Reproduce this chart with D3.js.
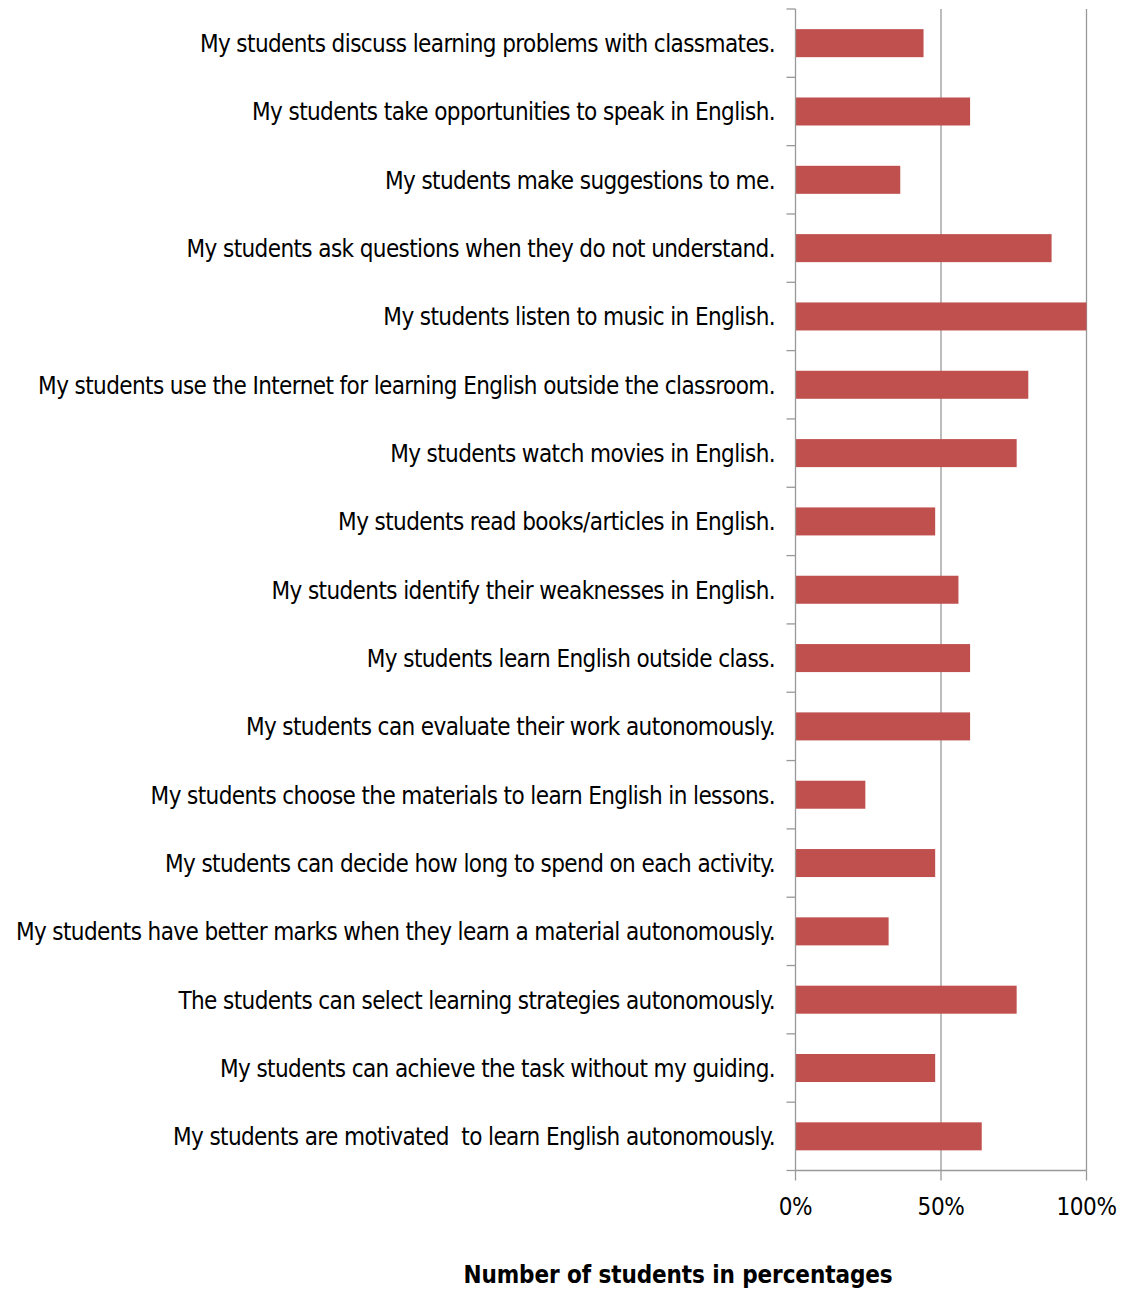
<!DOCTYPE html>
<html>
<head>
<meta charset="utf-8">
<script src="https://cdn.jsdelivr.net/npm/d3@7"></script>
<style>
  html, body { margin: 0; padding: 0; background: #fff; }
  svg { display: block; }
  text { font-family: "DejaVu Sans Condensed", "DejaVu Sans", sans-serif; fill: #000; }
  .cat { white-space: pre; }
</style>
</head>
<body>
<svg id="chart" width="1127" height="1290"></svg>
<script>
// Statements, listed top to bottom
const statements = [
  "My students discuss learning problems with classmates.",
  "My students take opportunities to speak in English.",
  "My students make suggestions to me.",
  "My students ask questions when they do not understand.",
  "My students listen to music in English.",
  "My students use the Internet for learning English outside the classroom.",
  "My students watch movies in English.",
  "My students read books/articles in English.",
  "My students identify their weaknesses in English.",
  "My students learn English outside class.",
  "My students can evaluate their work autonomously.",
  "My students choose the materials to learn English in lessons.",
  "My students can decide how long to spend on each activity.",
  "My students have better marks when they learn a material autonomously.",
  "The students can select learning strategies autonomously.",
  "My students can achieve the task without my guiding.",
  "My students are motivated  to learn English autonomously."
];

// Share of students (%) agreeing with each statement
const percentages = [44, 60, 36, 88, 100, 80, 76, 48, 56, 60, 60, 24, 48, 32, 76, 48, 64];

const tickValues = [0, 50, 100];
const axisTitle = "Number of students in percentages";

const svg = d3.select("#chart");
const plot = { left: 795.5, right: 1086.5, top: 9, bottom: 1170.5 };

const x = d3.scaleLinear().domain([0, 100]).range([plot.left, plot.right]);
const y = d3.scaleBand().domain(statements).range([plot.top, plot.bottom]).paddingInner(0.59).paddingOuter(0.295);
const yEdges = d3.scaleLinear().domain([0, statements.length]).range([plot.top, plot.bottom]);

const axisColor = "#999999";

// vertical gridlines (the 0% line is the category axis)
svg.append("g").selectAll("line")
  .data(tickValues.filter(v => v > 0))
  .join("line")
  .attr("x1", d => x(d)).attr("x2", d => x(d))
  .attr("y1", plot.top).attr("y2", plot.bottom)
  .attr("stroke", axisColor).attr("stroke-width", 1.3);

// bars
svg.append("g").selectAll("rect")
  .data(statements)
  .join("rect")
  .attr("x", x(0))
  .attr("y", d => y(d))
  .attr("width", (d, i) => x(percentages[i]) - x(0))
  .attr("height", y.bandwidth())
  .attr("fill", "#C0504D");

// category axis with tick marks on band boundaries
const catAxis = svg.append("g");
catAxis.append("line")
  .attr("x1", plot.left).attr("x2", plot.left)
  .attr("y1", plot.top).attr("y2", plot.bottom)
  .attr("stroke", axisColor).attr("stroke-width", 1.3);
catAxis.selectAll("line.tick")
  .data(d3.range(statements.length + 1))
  .join("line")
  .attr("class", "tick")
  .attr("x1", plot.left - 9).attr("x2", plot.left)
  .attr("y1", d => yEdges(d)).attr("y2", d => yEdges(d))
  .attr("stroke", axisColor).attr("stroke-width", 1.3);

catAxis.selectAll("text")
  .data(statements)
  .join("text")
  .attr("class", "cat")
  .attr("x", 775)
  .attr("y", d => y(d) + y.bandwidth() / 2 + 9)
  .attr("text-anchor", "end")
  .attr("font-size", 24)
  .attr("letter-spacing", "-0.6")
  .text(d => d);

// value axis
const valAxis = svg.append("g");
valAxis.append("line")
  .attr("x1", plot.left).attr("x2", plot.right)
  .attr("y1", plot.bottom).attr("y2", plot.bottom)
  .attr("stroke", axisColor).attr("stroke-width", 1.3);
valAxis.selectAll("line.tick")
  .data(tickValues)
  .join("line")
  .attr("class", "tick")
  .attr("x1", d => x(d)).attr("x2", d => x(d))
  .attr("y1", plot.bottom).attr("y2", plot.bottom + 10)
  .attr("stroke", axisColor).attr("stroke-width", 1.3);
valAxis.selectAll("text")
  .data(tickValues)
  .join("text")
  .attr("x", d => x(d))
  .attr("y", 1215)
  .attr("text-anchor", "middle")
  .attr("font-size", 24)
  .attr("letter-spacing", "-0.4")
  .text(d => d + "%");

svg.append("text")
  .attr("x", 678)
  .attr("y", 1283)
  .attr("text-anchor", "middle")
  .attr("font-size", 24)
  .attr("font-weight", "bold")
  .attr("letter-spacing", "-0.1")
  .text(axisTitle);
</script>
</body>
</html>
